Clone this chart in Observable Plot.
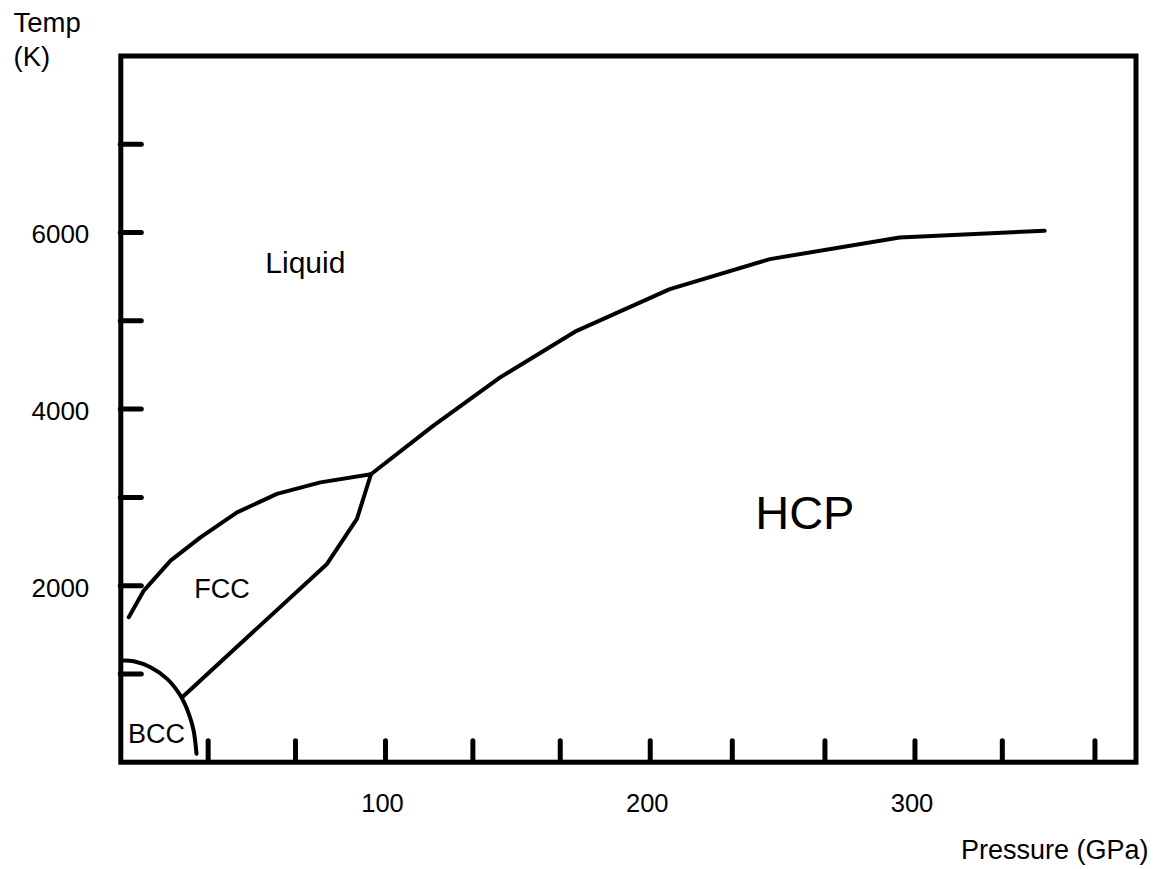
<!DOCTYPE html>
<html><head><meta charset="utf-8">
<script src="https://cdn.jsdelivr.net/npm/d3@7"></script>
<script src="https://cdn.jsdelivr.net/npm/@observablehq/plot@0.6"></script>
<style>html,body{margin:0;padding:0;background:#fff;overflow:hidden}</style>
</head><body><div id="chart"></div>
<script>
// Phase boundaries (Pressure GPa, Temperature K)
const bccPressure = [0.5, 4.9, 11.2, 17.5, 22.5, 25.7, 27.5, 28.6];
const bccTemp     = [1151, 1143, 1075, 944, 755, 548, 359, 95];
const fccHcpPressure = [23.2, 77.9, 89.2, 94.5];
const fccHcpTemp     = [736, 2246, 2756, 3262];
const fccMeltPressure = [3.0, 8.7, 18.8, 30.1, 43.9, 59.0, 75.4, 94.5];
const fccMeltTemp     = [1642, 1944, 2284, 2547, 2830, 3039, 3170, 3262];
const hcpMeltPressure = [94.5, 118.1, 143.3, 172.2, 207.4, 245.2, 294.2, 349];
const hcpMeltTemp     = [3262, 3812, 4359, 4887, 5359, 5699, 5944, 6020];
// Axis ticks
const xTickValues = [33, 66, 100, 133, 166, 200, 231, 266, 300, 333, 368];
const xTickLabels = [100, 200, 300];
const yTickValues = [1000, 2000, 3000, 4000, 5000, 6000, 7000];
const yTickLabels = [2000, 4000, 6000];
// Phase region labels (data coordinates)
const phaseNames    = ["Liquid", "FCC", "BCC", "HCP"];
const phasePressure = [69.7, 38.2, 13.5, 258.4];
const phaseTemp     = [5653, 1962, 320, 2816];

const toRows = (ps, ts) => ps.map((p, i) => ({p, t: ts[i]}));
const phases = phaseNames.map((name, i) => ({name, p: phasePressure[i], t: phaseTemp[i]}));

const W = 1157, H = 869;
const mL = 120.3, mR = 21.5, mT = 55.5, mB = 107.3;
const plotW = W - mL - mR, plotH = H - mT - mB;

const lineOpts = {x: "p", y: "t", stroke: "#000", strokeWidth: 4, strokeLinejoin: "round", strokeLinecap: "round"};
const txt = {fill: "#000", lineAnchor: "middle"};

const chart = Plot.plot({
  width: W, height: H,
  marginLeft: mL, marginRight: mR, marginTop: mT, marginBottom: mB,
  style: {background: "#fff", color: "#000", fontFamily: "'Liberation Sans', Arial, sans-serif"},
  x: {domain: [0, 383.5], axis: null},
  y: {domain: [0, 8000], axis: null},
  marks: [
    Plot.line(toRows(bccPressure, bccTemp), {...lineOpts, curve: "catmull-rom"}),
    Plot.line(toRows(fccHcpPressure, fccHcpTemp), lineOpts),
    Plot.line(toRows(fccMeltPressure, fccMeltTemp), lineOpts),
    Plot.line(toRows(hcpMeltPressure, hcpMeltTemp), lineOpts),
    Plot.tickY(yTickValues, {y: d => d, stroke: "#000", strokeWidth: 5, strokeLinecap: "round", insetRight: plotW - 21}),
    Plot.tickX(xTickValues, {x: d => d, stroke: "#000", strokeWidth: 5, strokeLinecap: "round", insetTop: plotH - 21}),
    Plot.frame({stroke: "#000", strokeWidth: 5}),
    Plot.text(yTickLabels, {...txt, y: d => d, text: d => String(d), frameAnchor: "left", textAnchor: "end", dx: -31.5, dy: 2.6, fontSize: 26}),
    Plot.text(xTickLabels, {...txt, x: d => d, text: d => String(d), frameAnchor: "bottom", textAnchor: "middle", dx: -3, dy: 42.1, fontSize: 25.5}),
    Plot.text(phases.filter(d => d.name === "Liquid"), {...txt, x: "p", y: "t", text: "name", fontSize: 30}),
    Plot.text(phases.filter(d => d.name === "HCP"), {...txt, x: "p", y: "t", text: "name", fontSize: 47}),
    Plot.text(phases.filter(d => d.name === "FCC" || d.name === "BCC"), {...txt, x: "p", y: "t", text: "name", fontSize: 27}),
    Plot.text(["Temp"], {...txt, frameAnchor: "top-left", textAnchor: "start", dx: -107.3, dy: -32.6, fontSize: 27.5}),
    Plot.text(["(K)"], {...txt, frameAnchor: "top-left", textAnchor: "start", dx: -107.3, dy: 0.7, fontSize: 27.5}),
    Plot.text(["Pressure (GPa)"], {...txt, frameAnchor: "bottom-right", textAnchor: "end", dx: 12.5, dy: 87.7, fontSize: 27})
  ]
});
document.getElementById("chart").appendChild(chart);
</script>
</body></html>
